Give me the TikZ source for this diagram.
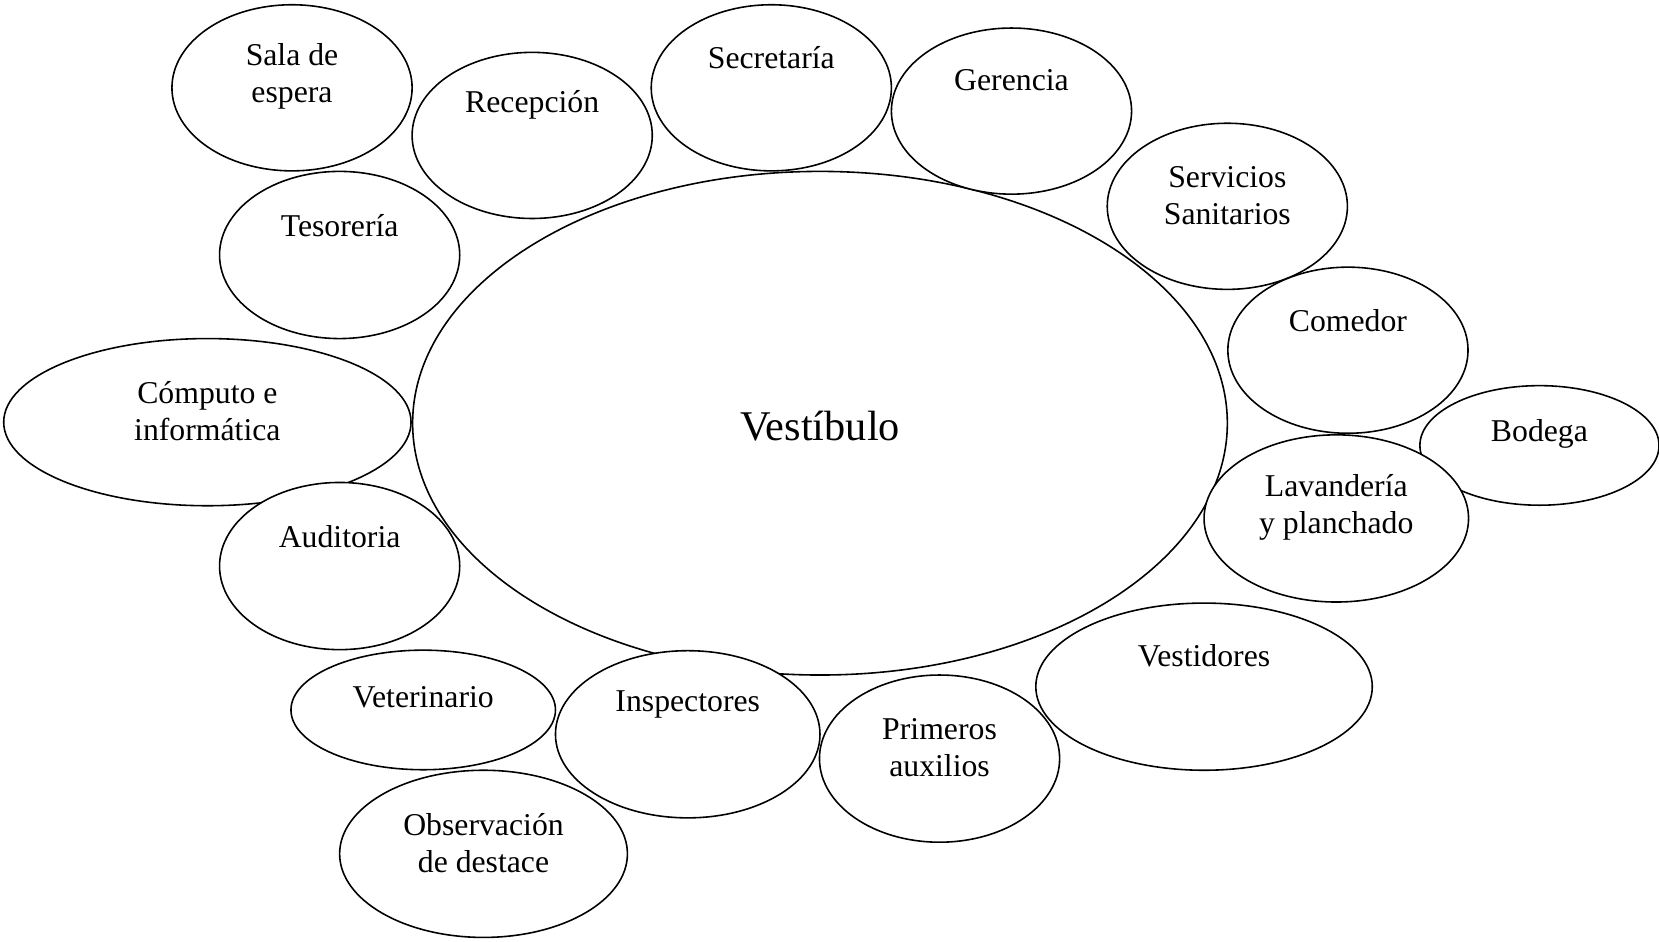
\documentclass[tikz,border=0pt]{standalone}
\usepackage{fontspec}
\setmainfont{Liberation Serif}
\usetikzlibrary{shapes.geometric}
\begin{document}
\begin{tikzpicture}[x=1pt,y=-1pt,
  room/.style={draw=black,fill=white,line width=1.5pt,ellipse,inner sep=0pt},
  lbl/.style={align=center,inner sep=0pt,font=\fontsize{30}{35}\selectfont}]
\useasboundingbox (0,0) rectangle (1568,890);
% central hall
\node[room,minimum width=770pt,minimum height=476pt] (vest) at (775,400) {};
\node[font=\fontsize{40}{46}\selectfont,inner sep=0pt] (tvest) at (775,403) {Vestíbulo};
% surrounding rooms (white-filled, later ones over earlier ones)
\node[room,minimum width=227pt,minimum height=157pt] (sala) at (276,83) {};
\node[room,minimum width=227pt,minimum height=157pt] (rec) at (503,128) {};
\node[room,minimum width=227pt,minimum height=157pt] (sec) at (729,83) {};
\node[room,minimum width=227pt,minimum height=157pt] (ger) at (956,105) {};
\node[room,minimum width=227pt,minimum height=157pt] (serv) at (1160,195) {};
\node[room,minimum width=227pt,minimum height=157pt] (com) at (1274,331) {};
\node[room,minimum width=226pt,minimum height=113pt] (bod) at (1455,421) {};
\node[room,minimum width=250pt,minimum height=158pt] (lav) at (1263,490) {};
\node[room,minimum width=318pt,minimum height=158pt] (vestid) at (1138,649) {};
\node[room,minimum width=227pt,minimum height=158pt] (prim) at (888,717) {};
\node[room,minimum width=250pt,minimum height=158pt] (insp) at (650,694) {};
\node[room,minimum width=250pt,minimum height=113pt] (vet) at (400,671) {};
\node[room,minimum width=272pt,minimum height=158pt] (obs) at (457,807) {};
\node[room,minimum width=385pt,minimum height=158pt] (comp) at (196,399) {};
\node[room,minimum width=227pt,minimum height=158pt] (aud) at (321,535) {};
\node[room,minimum width=227pt,minimum height=158pt] (tes) at (321,241) {};
% labels
\node[lbl] (tsala) at (276,72) {Sala de\\espera};
\node[lbl] (trec) at (503,99) {Recepción};
\node[lbl] (tsec) at (729,54) {Secretaría};
\node[lbl] (tger) at (956,76) {Gerencia};
\node[lbl] (tserv) at (1160,185) {Servicios\\Sanitarios};
\node[lbl] (tcom) at (1274,303) {Comedor};
\node[lbl] (tbod) at (1455,410) {Bodega};
\node[lbl] (tlav) at (1263,480) {Lavandería\\y planchado};
\node[lbl] (tvestid) at (1138,620) {Vestidores};
\node[lbl] (tprim) at (888,707) {Primeros\\auxilios};
\node[lbl] (tinsp) at (650,666) {Inspectores};
\node[lbl] (tvet) at (400,659) {Veterinario};
\node[lbl] (tobs) at (457,797) {Observación\\de destace};
\node[lbl] (tcomp) at (196,389) {Cómputo e\\informática};
\node[lbl] (taud) at (321,507) {Auditoria};
\node[lbl] (ttes) at (321,213) {Tesorería};
\end{tikzpicture}
\end{document}
